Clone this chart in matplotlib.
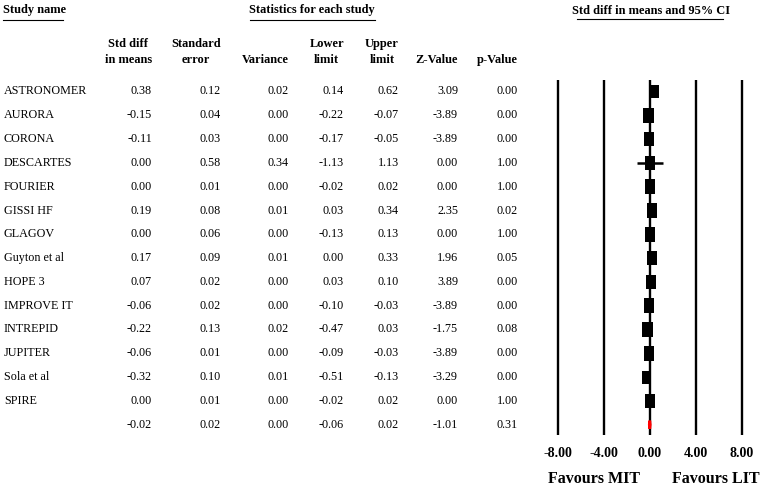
import matplotlib
matplotlib.use('Agg')
import matplotlib.pyplot as plt

# dados
estudos = ['ASTRONOMER', 'AURORA', 'CORONA', 'DESCARTES', 'FOURIER', 'GISSI HF',
           'GLAGOV', 'Guyton et al', 'HOPE 3', 'IMPROVE IT', 'INTREPID', 'JUPITER',
           'Sola et al', 'SPIRE']
std_diff = [0.38, -0.15, -0.11, 0.00, 0.00, 0.19, 0.00, 0.17, 0.07, -0.06, -0.22, -0.06, -0.32, 0.00]
std_err = [0.12, 0.04, 0.03, 0.58, 0.01, 0.08, 0.06, 0.09, 0.02, 0.02, 0.13, 0.01, 0.10, 0.01]
variancia = [0.02, 0.00, 0.00, 0.34, 0.00, 0.01, 0.00, 0.01, 0.00, 0.00, 0.02, 0.00, 0.01, 0.00]
lim_inf = [0.14, -0.22, -0.17, -1.13, -0.02, 0.03, -0.13, 0.00, 0.03, -0.10, -0.47, -0.09, -0.51, -0.02]
lim_sup = [0.62, -0.07, -0.05, 1.13, 0.02, 0.34, 0.13, 0.33, 0.10, -0.03, 0.03, -0.03, -0.13, 0.02]
z_valor = [3.09, -3.89, -3.89, 0.00, 0.00, 2.35, 0.00, 1.96, 3.89, -3.89, -1.75, -3.89, -3.29, 0.00]
p_valor = [0.00, 0.00, 0.00, 1.00, 1.00, 0.02, 1.00, 0.05, 0.00, 0.00, 0.08, 0.00, 0.00, 1.00]
peso_rel = [0.85, 1.05, 1.0, 1.0, 1.0, 1.0, 1.0, 1.0, 1.0, 1.0, 1.05, 1.0, 0.9, 1.0]

# resumo (efeito combinado)
resumo = [-0.02, 0.02, 0.00, -0.06, 0.02, -1.01, 0.31]

colunas = ['Std diff\nin means', 'Standard\nerror', 'Variance', 'Lower\nlimit',
           'Upper\nlimit', 'Z-Value', 'p-Value']
ticks = [-8, -4, 0, 4, 8]

plt.rcParams['font.family'] = 'Liberation Serif'

W, H = 760, 488
ROW0, ROW_H = 91.5, 23.8
col_x = [152, 221, 289, 344, 399, 458, 518]
FS = 8.7      # texto da tabela
FS_CAB = 8.9  # cabeçalhos

fig = plt.figure(figsize=(W / 100, H / 100), dpi=100)

# tabela (coordenadas em pixels)
ax = fig.add_axes([0, 0, 1, 1])
ax.set_xlim(0, W)
ax.set_ylim(H, 0)
ax.axis('off')

ax.text(3, 10, 'Study name', fontsize=FS_CAB, fontweight='bold', ha='left', va='center')
ax.plot([3, 63], [20, 20], color='black', lw=0.8)
ax.text(312, 10, 'Statistics for each study', fontsize=FS_CAB, fontweight='bold', ha='center', va='center')
ax.plot([250, 375], [20, 20], color='black', lw=0.8)
ax.text(651, 11, 'Std diff in means and 95% CI', fontsize=FS_CAB, fontweight='bold', ha='center', va='center')
ax.plot([577, 723], [19, 19], color='black', lw=0.8)

for c, x in zip(colunas, col_x):
    ax.text(x, 66, c, fontsize=FS_CAB, fontweight='bold', ha='right', va='bottom',
            multialignment='center', linespacing=1.45)

valores = [std_diff, std_err, variancia, lim_inf, lim_sup, z_valor, p_valor]
for i, nome in enumerate(estudos):
    y = ROW0 + i * ROW_H
    ax.text(4, y, nome, fontsize=FS, ha='left', va='center')
    for col, x in zip(valores, col_x):
        ax.text(x, y, f'{col[i]:.2f}', fontsize=FS, ha='right', va='center')

y = ROW0 + len(estudos) * ROW_H
for v, x in zip(resumo, col_x):
    ax.text(x, y, f'{v:.2f}', fontsize=FS, ha='right', va='center')

# forest plot
x0, x1 = 520, 760
escala = 11.5
zero_px = 650
axf = fig.add_axes([x0 / W, 0, (x1 - x0) / W, 1])
axf.set_xlim((x0 - zero_px) / escala, (x1 - zero_px) / escala)
axf.set_ylim((H - ROW0) / ROW_H, -ROW0 / ROW_H)
axf.axis('off')
axf.patch.set_alpha(0)

axf.vlines(ticks, -0.48, 14.43, color='black', lw=1.7)

linhas = list(range(len(estudos)))
axf.hlines(linhas, lim_inf, lim_sup, color='black', lw=1.8)
larg = [0.87 * p for p in peso_rel]
alt = [0.61 * p for p in peso_rel]
axf.bar(std_diff, alt, width=larg, bottom=[r - a / 2 for r, a in zip(linhas, alt)],
        color='black')

# diamante do resumo
r = len(estudos)
axf.fill([resumo[3], resumo[0], resumo[4], resumo[0]],
         [r, r - 0.17, r, r + 0.17], color='red', ec='red', lw=2, zorder=3)

for t in ticks:
    axf.text(t, 15.19, f'{t:.2f}', fontsize=10, fontweight='bold', ha='center', va='center')

axf.text(-4.87, 16.28, 'Favours MIT', fontsize=11.5, fontweight='bold', ha='center', va='center')
axf.text(5.7, 16.28, 'Favours LIT', fontsize=11.5, fontweight='bold', ha='center', va='center')

fig.savefig('out.png', dpi=100)
